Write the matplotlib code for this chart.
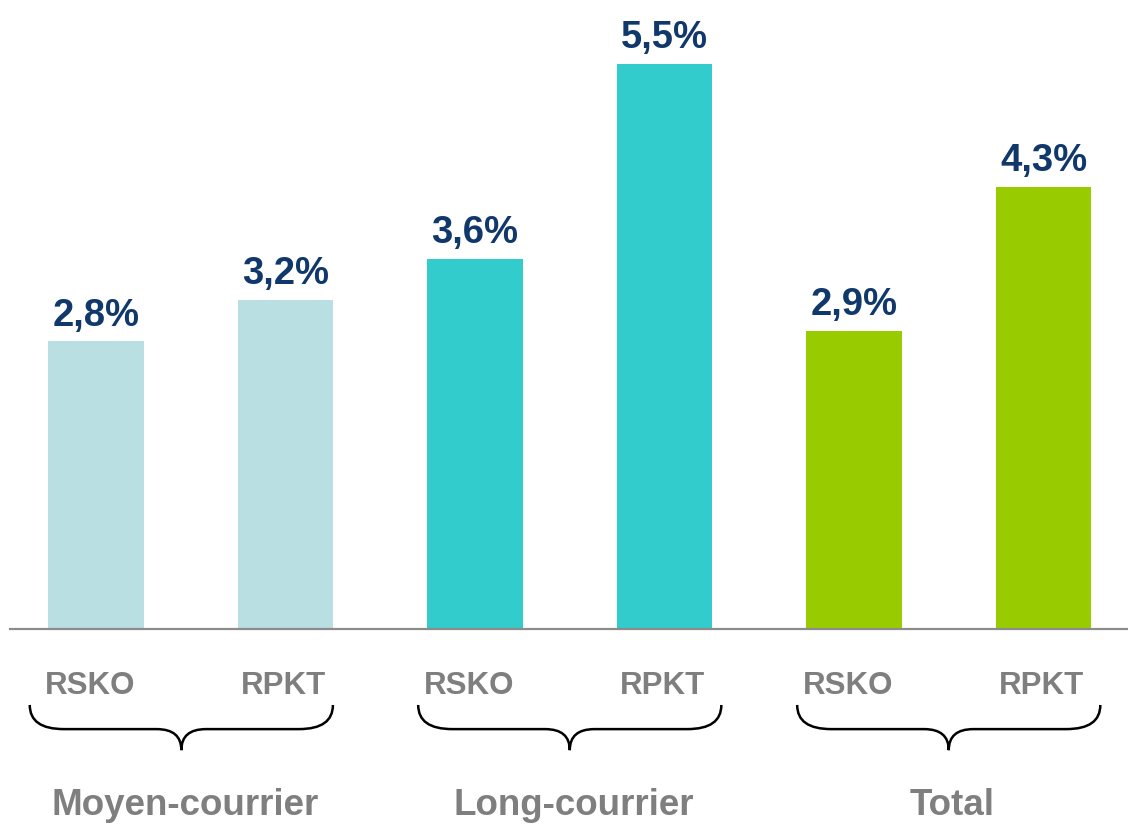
import matplotlib
matplotlib.use("Agg")
import matplotlib.pyplot as plt
from matplotlib.path import Path
from matplotlib.patches import PathPatch

plt.rcParams['font.family'] = ['Liberation Sans', 'DejaVu Sans']

# data
groups = ["Moyen-courrier", "Long-courrier", "Total"]
metrics = ["RSKO", "RPKT"]
values = [2.8, 3.2, 3.6, 5.5, 2.9, 4.3]
group_colors = ["#badfe2", "#33cccc", "#99cc00"]

LABEL_GRAY = "#7f7f7f"
VALUE_BLUE = "#10386b"

fig = plt.figure(figsize=(11.28, 8.24), dpi=100)
ax = fig.add_axes([0, 0, 1, 1])
ax.set_xlim(-0.507, 5.446)
ax.set_ylim(-1.899, 6.125)
ax.axis("off")

xs = list(range(len(values)))
colors = [group_colors[i // 2] for i in xs]
ax.bar(xs, values, width=0.505, color=colors, zorder=2)
ax.plot([-0.454, 5.446], [0, 0], color="#8c8c8c", lw=1.6, zorder=3)

# value labels
for x, v in zip(xs, values):
    ax.text(x, v + 0.155, f"{v:.1f}%".replace(".", ","), ha="center", va="baseline",
            fontsize=27.5, fontweight="bold", color=VALUE_BLUE)

# metric labels
for x in xs:
    ax.text(x - 0.03 if x % 2 == 0 else x - 0.01, -0.56, metrics[x % 2], ha="center", va="center",
            fontsize=22.5, fontweight="bold", color=LABEL_GRAY)


def brace(xc, half, ytop=-0.74, ymid=-0.975, ytip=-1.18, r=0.18, rc=0.13):
    x0, x1 = xc - half, xc + half
    verts = [(x0, ytop), (x0, ymid), (x0 + r, ymid),
             (xc - rc, ymid), (xc, ymid), (xc, ytip),
             (xc, ymid), (xc + rc, ymid),
             (x1 - r, ymid), (x1, ymid), (x1, ytop)]
    codes = [Path.MOVETO, Path.CURVE3, Path.CURVE3,
             Path.LINETO, Path.CURVE3, Path.CURVE3,
             Path.CURVE3, Path.CURVE3,
             Path.LINETO, Path.CURVE3, Path.CURVE3]
    ax.add_patch(PathPatch(Path(verts, codes), fill=False, lw=1.8, color="black"))


brace_shift = [-0.05, 0.0, 0.0]
for g, name in enumerate(groups):
    xc = (xs[2 * g] + xs[2 * g + 1]) / 2 + brace_shift[g]
    brace(xc, 0.80)
    ax.text(xc + 0.02, -1.72, name, ha="center", va="center",
            fontsize=26.5, fontweight="bold", color=LABEL_GRAY)

fig.savefig("out.png", dpi=100)
